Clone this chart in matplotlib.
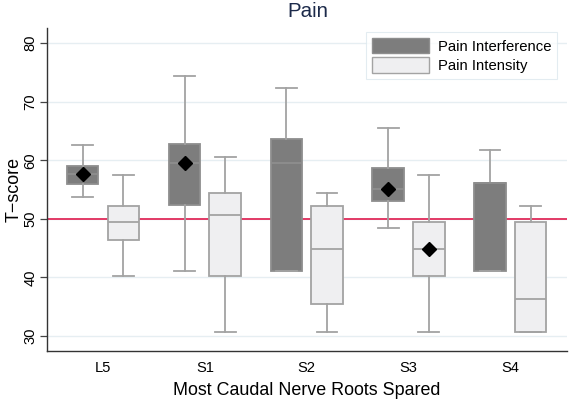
import numpy as np
import matplotlib.pyplot as plt

plt.rcParams['font.family'] = ['Liberation Sans', 'DejaVu Sans']

roots = ["L5", "S1", "S2", "S3", "S4"]

# Pain Interference: whisker low, q1, median, q3, whisker high, marker
interf_lo = [53.8, 41.0, 41.0, 48.5, 41.0]
interf_q1 = [56.0, 52.4, 41.0, 53.1, 41.0]
interf_med = [57.6, 59.5, 59.5, 55.0, 56.1]
interf_q3 = [59.1, 62.8, 63.7, 58.6, 56.1]
interf_hi = [62.6, 74.4, 72.4, 65.5, 61.8]
interf_mark = [57.6, 59.5, None, 55.0, None]

# Pain Intensity
inten_lo = [40.2, 30.7, 30.7, 30.7, 30.7]
inten_q1 = [46.3, 40.2, 35.4, 40.2, 30.7]
inten_med = [49.4, 50.7, 44.9, 44.9, 36.3]
inten_q3 = [52.1, 54.4, 52.1, 49.4, 49.4]
inten_hi = [57.5, 60.5, 54.4, 57.5, 52.1]
inten_mark = [None, None, None, 44.9, None]


def make_stats(lo, q1, med, q3, hi):
    return [dict(whislo=a, q1=b, med=c, q3=d, whishi=e, fliers=[])
            for a, b, c, d, e in zip(lo, q1, med, q3, hi)]


fig = plt.figure(figsize=(5.69, 4.0), dpi=100)
ax = fig.add_axes([0.082, 0.1225, 0.915, 0.8075])

x = np.arange(1, len(roots) + 1)
off = 0.2
w = 0.31

ax.axhline(50, color="#e23a66", linewidth=1.4, zorder=1)

series = [
    (make_stats(interf_lo, interf_q1, interf_med, interf_q3, interf_hi), x - off, "#7d7d7d", "#8e8e8e", interf_mark),
    (make_stats(inten_lo, inten_q1, inten_med, inten_q3, inten_hi), x + off, "#efeff1", "#a3a3a3", inten_mark),
]
for stats, pos, fill, edge, marks in series:
    ax.bxp(stats, positions=pos, widths=w, showfliers=False, patch_artist=True,
           boxprops=dict(facecolor=fill, edgecolor=edge, linewidth=1.3),
           medianprops=dict(color=edge, linewidth=1.3),
           whiskerprops=dict(color="#a3a3a3", linewidth=1.3),
           capprops=dict(color="#a3a3a3", linewidth=1.3),
           capwidths=w * 0.66, zorder=2)
    for p, m in zip(pos, marks):
        if m is not None:
            ax.plot(p, m, marker="D", color="black", markersize=7, zorder=4)

ax.set_xlim(0.446, 5.56)
ax.set_ylim(27.4, 82.6)
ax.set_xticks(x)
ax.set_xticklabels(roots, fontsize=10.6)
ax.set_yticks([30, 40, 50, 60, 70, 80])
ax.set_yticklabels(["30", "40", "50", "60", "70", "80"], fontsize=10.6,
                   rotation=90, va="center")
ax.yaxis.grid(True, color="#e6eef2", linewidth=1.0)
ax.set_axisbelow(True)
ax.tick_params(axis="both", length=5, color="#444444", width=0.9)
ax.tick_params(axis="y", pad=1.5)
ax.tick_params(axis="x", length=0, pad=7)
for s in ["top", "right"]:
    ax.spines[s].set_visible(False)
for s in ["left", "bottom"]:
    ax.spines[s].set_color("#333333")
    ax.spines[s].set_linewidth(1.0)

ax.set_xlabel("Most Caudal Nerve Roots Spared", fontsize=12.9, labelpad=5)
ax.set_ylabel("T\u2212score", fontsize=12.9, labelpad=1)
fig.suptitle("Pain", x=0.541, y=0.995, fontsize=14.8, color="#1c2a4a")

handles = [plt.Rectangle((0, 0), 1, 1, facecolor="#7d7d7d", edgecolor="#8e8e8e"),
           plt.Rectangle((0, 0), 1, 1, facecolor="#efeff1", edgecolor="#a3a3a3")]
leg = ax.legend(handles, ["Pain Interference", "Pain Intensity"], loc="upper right",
                bbox_to_anchor=(0.995, 1.01), fontsize=10.7, frameon=True, fancybox=False,
                handlelength=3.8, handleheight=1.2, handletextpad=0.6,
                borderpad=0.4, labelspacing=0.25)
leg.get_frame().set_edgecolor("#dde8ee")
leg.get_frame().set_linewidth(0.8)

fig.savefig("out.png", dpi=100)
